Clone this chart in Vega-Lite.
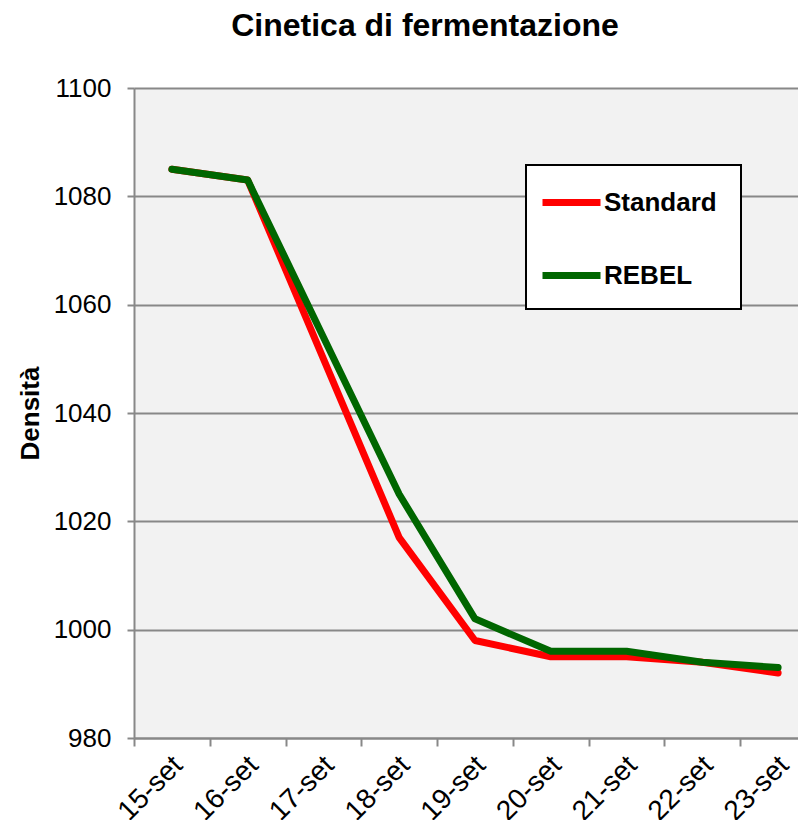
{
  "$schema": "https://vega.github.io/schema/vega-lite/v6.json",
  "autosize": {"type": "none"},
  "padding": {"left": 134, "top": 88, "right": 0, "bottom": 82},
  "width": 664,
  "height": 650,
  "background": "white",
  "config": {
    "font": "Liberation Sans",
    "view": {"fill": "#f2f2f2", "stroke": null},
    "legend": {"strokeWidth": 2}
  },
  "title": {
    "text": "Cinetica di fermentazione",
    "fontSize": 32,
    "fontWeight": "bold",
    "color": "black",
    "font": "Liberation Sans",
    "anchor": "middle",
    "frame": "group",
    "baseline": "alphabetic",
    "dx": -41,
    "offset": 7
  },
  "data": {
    "values": [
      {"giorno": "15-set", "serie": "Standard", "densita": 1085},
      {"giorno": "16-set", "serie": "Standard", "densita": 1083},
      {"giorno": "17-set", "serie": "Standard", "densita": 1050},
      {"giorno": "18-set", "serie": "Standard", "densita": 1017},
      {"giorno": "19-set", "serie": "Standard", "densita": 998},
      {"giorno": "20-set", "serie": "Standard", "densita": 995},
      {"giorno": "21-set", "serie": "Standard", "densita": 995},
      {"giorno": "22-set", "serie": "Standard", "densita": 994},
      {"giorno": "23-set", "serie": "Standard", "densita": 992},
      {"giorno": "15-set", "serie": "REBEL", "densita": 1085},
      {"giorno": "16-set", "serie": "REBEL", "densita": 1083},
      {"giorno": "17-set", "serie": "REBEL", "densita": 1054},
      {"giorno": "18-set", "serie": "REBEL", "densita": 1025},
      {"giorno": "19-set", "serie": "REBEL", "densita": 1002},
      {"giorno": "20-set", "serie": "REBEL", "densita": 996},
      {"giorno": "21-set", "serie": "REBEL", "densita": 996},
      {"giorno": "22-set", "serie": "REBEL", "densita": 994},
      {"giorno": "23-set", "serie": "REBEL", "densita": 993}
    ]
  },
  "mark": {"type": "line", "strokeWidth": 7, "strokeCap": "round", "strokeJoin": "round"},
  "encoding": {
    "x": {
      "field": "giorno",
      "type": "nominal",
      "sort": null,
      "scale": {"type": "band", "range": [0, 682], "paddingInner": 0, "paddingOuter": 0},
      "axis": {
        "title": null,
        "labelAngle": -45,
        "labelAlign": "right",
        "labelBaseline": "top",
        "labelFontSize": 28,
        "labelColor": "black",
        "labelPadding": 5,
        "labelOffset": -4,
        "tickBand": "extent",
        "tickSize": 8,
        "tickColor": "#888888",
        "tickWidth": 2,
        "domainColor": "#888888",
        "domainWidth": 2,
        "grid": false
      }
    },
    "y": {
      "field": "densita",
      "type": "quantitative",
      "scale": {"domain": [980, 1100], "nice": false, "zero": false},
      "axis": {
        "title": "Densità",
        "titleFontSize": 26,
        "titleFontWeight": "bold",
        "titleColor": "black",
        "titlePadding": 10,
        "format": "d",
        "values": [980, 1000, 1020, 1040, 1060, 1080, 1100],
        "labelFontSize": 26,
        "labelColor": "black",
        "labelPadding": 16,
        "tickSize": 7,
        "tickColor": "#888888",
        "tickWidth": 2,
        "domainColor": "#888888",
        "domainWidth": 2,
        "grid": true,
        "gridColor": "#888888",
        "gridWidth": 2
      }
    },
    "color": {
      "field": "serie",
      "type": "nominal",
      "sort": ["Standard", "REBEL"],
      "scale": {"domain": ["Standard", "REBEL"], "range": ["#ff0000", "#006600"]},
      "legend": {
        "title": "\u00a0",
        "titleOrient": "bottom",
        "titleFontSize": 12,
        "titlePadding": 3,
        "orient": "none",
        "legendX": 392,
        "legendY": 77,
        "symbolType": "stroke",
        "symbolSize": 3364,
        "symbolStrokeWidth": 7,
        "symbolOffset": 8,
        "labelOffset": 0,
        "labelFontSize": 26,
        "labelFontWeight": "bold",
        "labelColor": "black",
        "labelExpr": "datum.label + '\u2800'",
        "padding": 5,
        "rowPadding": 26,
        "strokeColor": "black",
        "fillColor": "white"
      }
    }
  }
}
